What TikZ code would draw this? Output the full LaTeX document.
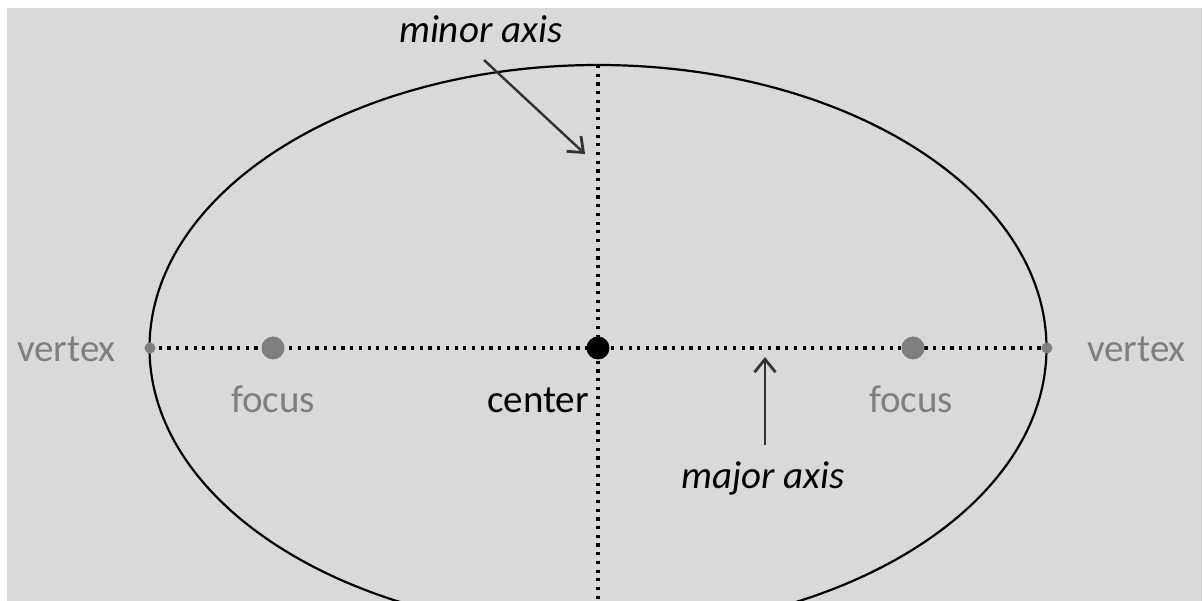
\documentclass[tikz,border=0pt]{standalone}
\usepackage{fontspec}
\setmainfont{Carlito}
\usetikzlibrary{arrows.meta}
\definecolor{bg}{HTML}{D9D9D9}
\definecolor{lbl}{HTML}{7F7F7F}
\definecolor{arr}{HTML}{333333}
\tikzset{
  axisline/.style={line width=3.2pt, dash pattern=on 3.2pt off 5.5pt, black},
  bigtext/.style={font=\fontsize{39}{41}\selectfont, inner sep=0pt, anchor=base west},
  graytext/.style={bigtext, text=lbl},
  pointer/.style={arr, line width=2.4pt, -{Straight Barb[length=13pt,width=21pt,line width=2.8pt]}},
}
\begin{document}
\begin{tikzpicture}[x=1pt,y=-1pt]
\useasboundingbox (0,0) rectangle (1203,601);
\fill[white] (0,0) rectangle (1203,601);
\fill[bg] (7,8) rectangle (1202,601);
\begin{scope}
\clip (7,8) rectangle (1202,601);
\draw[line width=2.2pt] (598,348) ellipse [x radius=448.5, y radius=283];
\coordinate (top) at (598,65);
\coordinate (bot) at (598,601);
\coordinate (vl) at (150,348);
\coordinate (vr) at (1047,348);
\draw[axisline] (vl) -- (vr);
\draw[axisline] (top) -- (bot);
\end{scope}
\fill[lbl] (vl) circle (5.5);
\fill[lbl] (vr) circle (5.5);
\node[circle, fill=lbl, minimum size=23pt, inner sep=0pt] (fl) at (273,348) {};
\node[circle, fill=lbl, minimum size=23pt, inner sep=0pt] (fr) at (913,348) {};
\node[circle, fill=black, minimum size=23pt, inner sep=0pt] (c) at (598,348) {};
\node[graytext] (tvl) at (17,362) {vertex};
\node[graytext] (tvr) at (1087,362) {vertex};
\node[graytext] (tfl) at (231,413) {focus};
\node[graytext] (tfr) at (869,413) {focus};
\node[bigtext] (tc) at (487,413) {center};
\node[bigtext, font=\fontsize{39}{41}\selectfont\itshape] (tmin) at (399,43) {minor axis};
\node[bigtext, font=\fontsize{39}{41}\selectfont\itshape] (tmaj) at (681,489) {major axis};
\coordinate (minS) at (484,60);
\coordinate (minE) at (585,154);
\coordinate (majS) at (765,445);
\coordinate (majE) at (765,357);
\draw[pointer] (minS) -- (minE);
\draw[pointer] (majS) -- (majE);
\end{tikzpicture}
\end{document}
